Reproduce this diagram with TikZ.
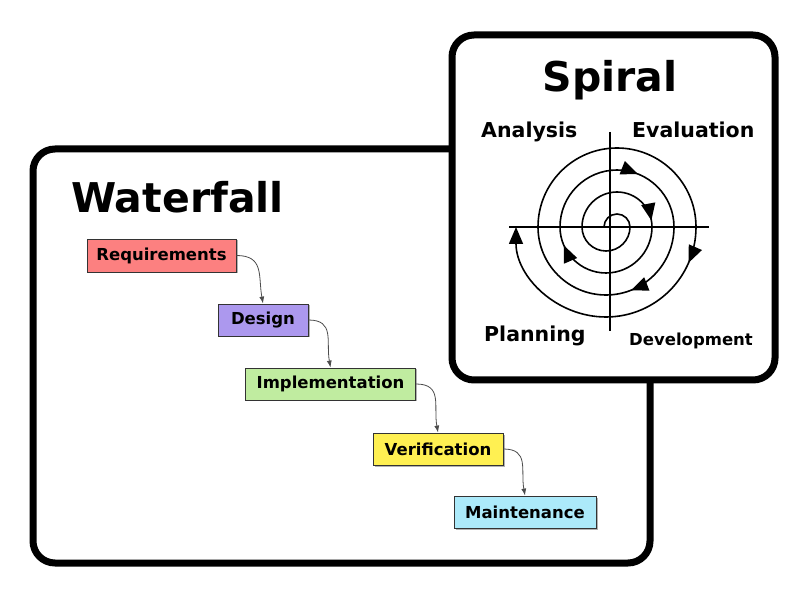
\documentclass[tikz,border=0pt]{standalone}
\usepackage{fontspec}
\setmainfont{DejaVu Sans}
\usetikzlibrary{arrows.meta,shadows,decorations.markings}
\definecolor{reqc}{RGB}{252,128,128}
\definecolor{desc}{RGB}{172,152,238}
\definecolor{impc}{RGB}{192,236,160}
\definecolor{verc}{RGB}{255,240,82}
\definecolor{mntc}{RGB}{172,234,250}
\tikzset{
  frame/.style={line width=7pt,rounded corners=22pt,fill=white},
  title/.style={font=\fontsize{41}{41}\selectfont\bfseries,inner sep=0pt},
  quad/.style={font=\fontsize{20.5}{20.5}\selectfont\bfseries,inner sep=0pt,anchor=base west},
  phase/.style={draw=black!80,line width=0.8pt,inner sep=0pt,
    font=\fontsize{16.5}{16.5}\selectfont\bfseries,
    drop shadow={shadow xshift=1.5pt,shadow yshift=-1.5pt,opacity=0.3,fill=black}},
  flow/.style={draw=black!70,line width=0.8pt,-{Latex[length=7pt,width=5pt]}},
  axis/.style={line width=1.6pt},
  sp/.style={line width=1.6pt},
  sparrow/.style={postaction={decorate},decoration={markings,
    mark=at position #1 with {\arrow{Triangle[length=17pt,width=14pt]}}}}
}
\begin{document}
\begin{tikzpicture}[x=1pt,y=1pt]
\useasboundingbox (0,0) rectangle (800,600);
% frames
\draw[frame] (33,37) rectangle (650,451);
\draw[frame] (452,220) rectangle (775,565);
% titles
\node[title,anchor=base west] (wtitle) at (71,387) {Waterfall};
\node[title,anchor=base] (stitle) at (610,508) {Spiral};
% waterfall phases
\node[phase,fill=reqc,minimum width=149pt,minimum height=33pt] (req) at (161.5,344.5) {Requirements};
\node[phase,fill=desc,minimum width=90pt,minimum height=32pt] (des) at (263,280) {Design};
\node[phase,fill=impc,minimum width=170pt,minimum height=32pt] (imp) at (330.5,216) {Implementation};
\node[phase,fill=verc,minimum width=130pt,minimum height=32pt] (ver) at (438,151) {Verification};
\node[phase,fill=mntc,minimum width=142pt,minimum height=32pt] (mnt) at (525,88) {Maintenance};
\draw[flow] (req.east) to[out=0,in=100,looseness=1.3] (des.north);
\draw[flow] (des.east) to[out=0,in=100,looseness=1.3] (imp.north);
\draw[flow] (imp.east) to[out=0,in=100,looseness=1.3] (ver.north);
\draw[flow] (ver.east) to[out=0,in=100,looseness=1.3] (mnt.north);
% spiral labels
\node[quad] (ana) at (481,462) {Analysis};
\node[quad] (eva) at (632,462) {Evaluation};
\node[quad] (pla) at (484,258) {Planning};
\node[quad,font=\fontsize{16.5}{16.5}\selectfont\bfseries] (dev) at (629,254) {Development};
% axes
\draw[axis] (509,373) -- (709,373);
\draw[axis] (610,468) -- (610,269);
% spiral: upper arcs centred (617,373), lower arcs centred (606,373)
\draw[sp] (604,373) arc[start angle=180,end angle=0,radius=13];
\draw[sp] (630,373) arc[start angle=0,end angle=-180,radius=24];
\draw[sp,sparrow=0.94] (582,373) arc[start angle=180,end angle=0,radius=35];
\draw[sp,sparrow=0.87] (652,373) arc[start angle=0,end angle=-180,radius=46];
\draw[sp,sparrow=0.62] (560,373) arc[start angle=180,end angle=0,radius=57];
\draw[sp,sparrow=0.38] (674,373) arc[start angle=0,end angle=-180,radius=68];
\draw[sp] (538,373) arc[start angle=180,end angle=0,radius=79];
\draw[sp,sparrow=0.13,-{Triangle[length=17pt,width=14pt]}] (696,373) arc[start angle=0,end angle=-180,radius=90];
\end{tikzpicture}
\end{document}
